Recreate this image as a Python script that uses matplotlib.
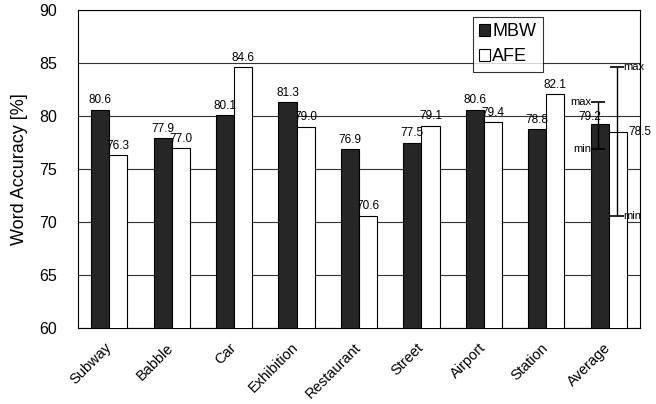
import numpy as np
import matplotlib.pyplot as plt
import matplotlib.transforms as mtransforms

plt.rcParams['font.family'] = ['Liberation Sans', 'DejaVu Sans']

categories = ['Subway', 'Babble', 'Car', 'Exhibition', 'Restaurant',
              'Street', 'Airport', 'Station', 'Average']
mbw = [80.6, 77.9, 80.1, 81.3, 76.9, 77.5, 80.6, 78.8, 79.2]
afe = [76.3, 77.0, 84.6, 79.0, 70.6, 79.1, 79.4, 82.1, 78.5]

# min / max over the eight noise types, shown on the Average bars
mbw_min, mbw_max = min(mbw[:-1]), max(mbw[:-1])
afe_min, afe_max = min(afe[:-1]), max(afe[:-1])

x = np.arange(len(categories))
w = 0.29

fig = plt.figure(figsize=(6.56, 4.04), dpi=100)
ax = fig.add_axes([78 / 656, 1 - 328 / 404, 562 / 656, 318 / 404])

ax.bar(x - w / 2, mbw, w, color='#262626', edgecolor='black',
       linewidth=0.8, label='MBW', zorder=3)
ax.bar(x + w / 2, afe, w, color='white', edgecolor='black',
       linewidth=0.8, label='AFE', zorder=3)

ax.set_ylim(60, 90)
ax.set_xlim(-0.5, len(categories) - 0.5)
ax.set_yticks(range(60, 91, 5))
ax.yaxis.grid(True, color='#333333', linewidth=0.8, zorder=0)
ax.tick_params(axis='both', length=0)
ax.tick_params(axis='y', labelsize=11.5, pad=15)
ax.tick_params(axis='x', pad=9)
ax.set_xticks(x)
ax.set_xticklabels(categories, rotation=45, ha='right', rotation_mode='anchor',
                   fontsize=10.5)
shift = mtransforms.ScaledTranslation(-5 / 100, 0, fig.dpi_scale_trans)
for lab in ax.get_xticklabels():
    lab.set_transform(lab.get_transform() + shift)
ax.set_ylabel('Word Accuracy [%]', fontsize=13, labelpad=8)
for s in ax.spines.values():
    s.set_linewidth(0.8)

# value labels
for i in range(len(categories) - 1):
    ax.text(x[i] - w / 2, mbw[i] + 0.3, f'{mbw[i]:.1f}', ha='center',
            va='bottom', fontsize=8.5, zorder=5)
    ax.text(x[i] + w / 2, afe[i] + 0.3, f'{afe[i]:.1f}', ha='center',
            va='bottom', fontsize=8.5, zorder=5)

last = len(categories) - 1
ax.text(x[last] - w / 2 + 0.02, mbw[last] + 0.1, f'{mbw[last]:.1f}',
        ha='right', va='bottom', fontsize=8.5, zorder=5)
ax.text(x[last] + w / 2 + 0.17, afe[last], f'{afe[last]:.1f}',
        ha='left', va='center', fontsize=8.5, zorder=5)

# min / max error bars on Average
xm = x[last] - w / 2 - 0.03
xa = x[last] + w / 2 - 0.02
ax.errorbar([xm], [(mbw_min + mbw_max) / 2],
            yerr=[[(mbw_max - mbw_min) / 2]], fmt='none', ecolor='black',
            elinewidth=1, capsize=5, capthick=1.2, zorder=6)
ax.errorbar([xa], [(afe_min + afe_max) / 2],
            yerr=[[(afe_max - afe_min) / 2]], fmt='none', ecolor='black',
            elinewidth=1, capsize=5, capthick=1.2, zorder=6)
ax.text(xm - 0.1, mbw_max, 'max', ha='right', va='center', fontsize=8, zorder=6)
ax.text(xm - 0.1, mbw_min, 'min', ha='right', va='center', fontsize=8, zorder=6)
ax.text(xa + 0.1, afe_max, 'max', ha='left', va='center', fontsize=8, zorder=6,
        clip_on=False)
ax.text(xa + 0.1, afe_min, 'min', ha='left', va='center', fontsize=8, zorder=6,
        clip_on=False)

leg = ax.legend(loc='upper right', bbox_to_anchor=(0.827, 0.978),
                borderaxespad=0, fontsize=13, frameon=True, fancybox=False,
                edgecolor='black', handlelength=0.6, handleheight=0.6,
                handletextpad=0.15, borderpad=0.35, labelspacing=0.45)
leg.get_frame().set_linewidth(0.8)
leg.set_zorder(7)

fig.savefig('out.png', dpi=100)
